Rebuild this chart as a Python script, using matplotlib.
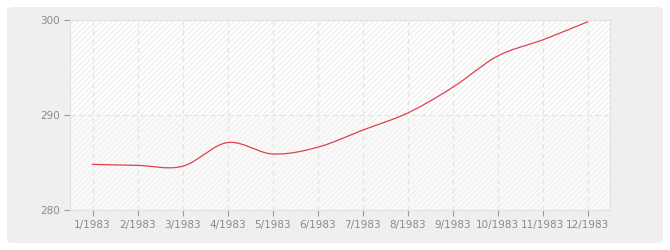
import numpy as np
import matplotlib.pyplot as plt
from matplotlib.patches import FancyBboxPatch

months = ["1/1983", "2/1983", "3/1983", "4/1983", "5/1983", "6/1983",
          "7/1983", "8/1983", "9/1983", "10/1983", "11/1983", "12/1983"]
values = [284.8, 284.7, 284.6, 287.1, 285.9, 286.6,
          288.4, 290.2, 292.9, 296.2, 297.9, 299.8]
yticks = [280, 290, 300]


def smooth(xs, ys, n=20):
    # catmull-rom just for drawing the curve
    xs = np.asarray(xs, float)
    ys = np.asarray(ys, float)
    px = np.concatenate([[2 * xs[0] - xs[1]], xs, [2 * xs[-1] - xs[-2]]])
    py = np.concatenate([[2 * ys[0] - ys[1]], ys, [2 * ys[-1] - ys[-2]]])
    out_x, out_y = [], []
    t = np.linspace(0, 1, n, endpoint=False)
    for i in range(1, len(px) - 2):
        for p, o in ((px, out_x), (py, out_y)):
            p0, p1, p2, p3 = p[i - 1], p[i], p[i + 1], p[i + 2]
            o.extend(0.5 * (2 * p1 + (-p0 + p2) * t
                            + (2 * p0 - 5 * p1 + 4 * p2 - p3) * t ** 2
                            + (-p0 + 3 * p1 - 3 * p2 + p3) * t ** 3))
    out_x.append(xs[-1])
    out_y.append(ys[-1])
    return out_x, out_y


fig = plt.figure(figsize=(6.7, 2.5), dpi=100)
fig.patch.set_facecolor("white")
bg = FancyBboxPatch((7 / 670, 7 / 250), 656 / 670, 236 / 250,
                    boxstyle="round,pad=0,rounding_size=0.012",
                    transform=fig.transFigure, facecolor="#efefef",
                    edgecolor="none", zorder=-10)
fig.patches.append(bg)

ax = fig.add_axes([70 / 670, 40 / 250, 540 / 670, 190 / 250])
x = np.arange(1, len(months) + 1)
ax.set_xlim(0.5, 12.5)
ax.set_ylim(280, 300)
ax.set_facecolor("white")

# banded background with faint hatching
ax.axhspan(280, 290, facecolor="#fafafa", edgecolor="#f2f2f2",
           hatch="//////", linewidth=0, zorder=0)
ax.axhspan(290, 300, facecolor="white", edgecolor="#f0f0f0",
           hatch="//////", linewidth=0, zorder=0)

for xi in x:
    ax.axvline(xi, color="#e4e4e4", lw=0.9, ls=(0, (4, 3)), zorder=1)
ax.axhline(290, color="#e4e4e4", lw=0.9, ls=(0, (4, 3)), zorder=1)

sx, sy = smooth(x, values)
ax.plot(sx, sy, color="#e0414e", lw=0.9, zorder=3)

ax.set_xticks(x)
ax.set_xticklabels(months)
ax.set_yticks(yticks)
ax.tick_params(axis="both", colors="#999999", labelcolor="#8a8a8a",
               labelsize=7.5, length=4, width=0.8)
ax.tick_params(axis="y", pad=3)
ax.tick_params(axis="x", pad=3)
for s in ax.spines.values():
    s.set_color("#e0e0e0")
    s.set_linewidth(0.8)

fig.savefig("out.png", dpi=100)
